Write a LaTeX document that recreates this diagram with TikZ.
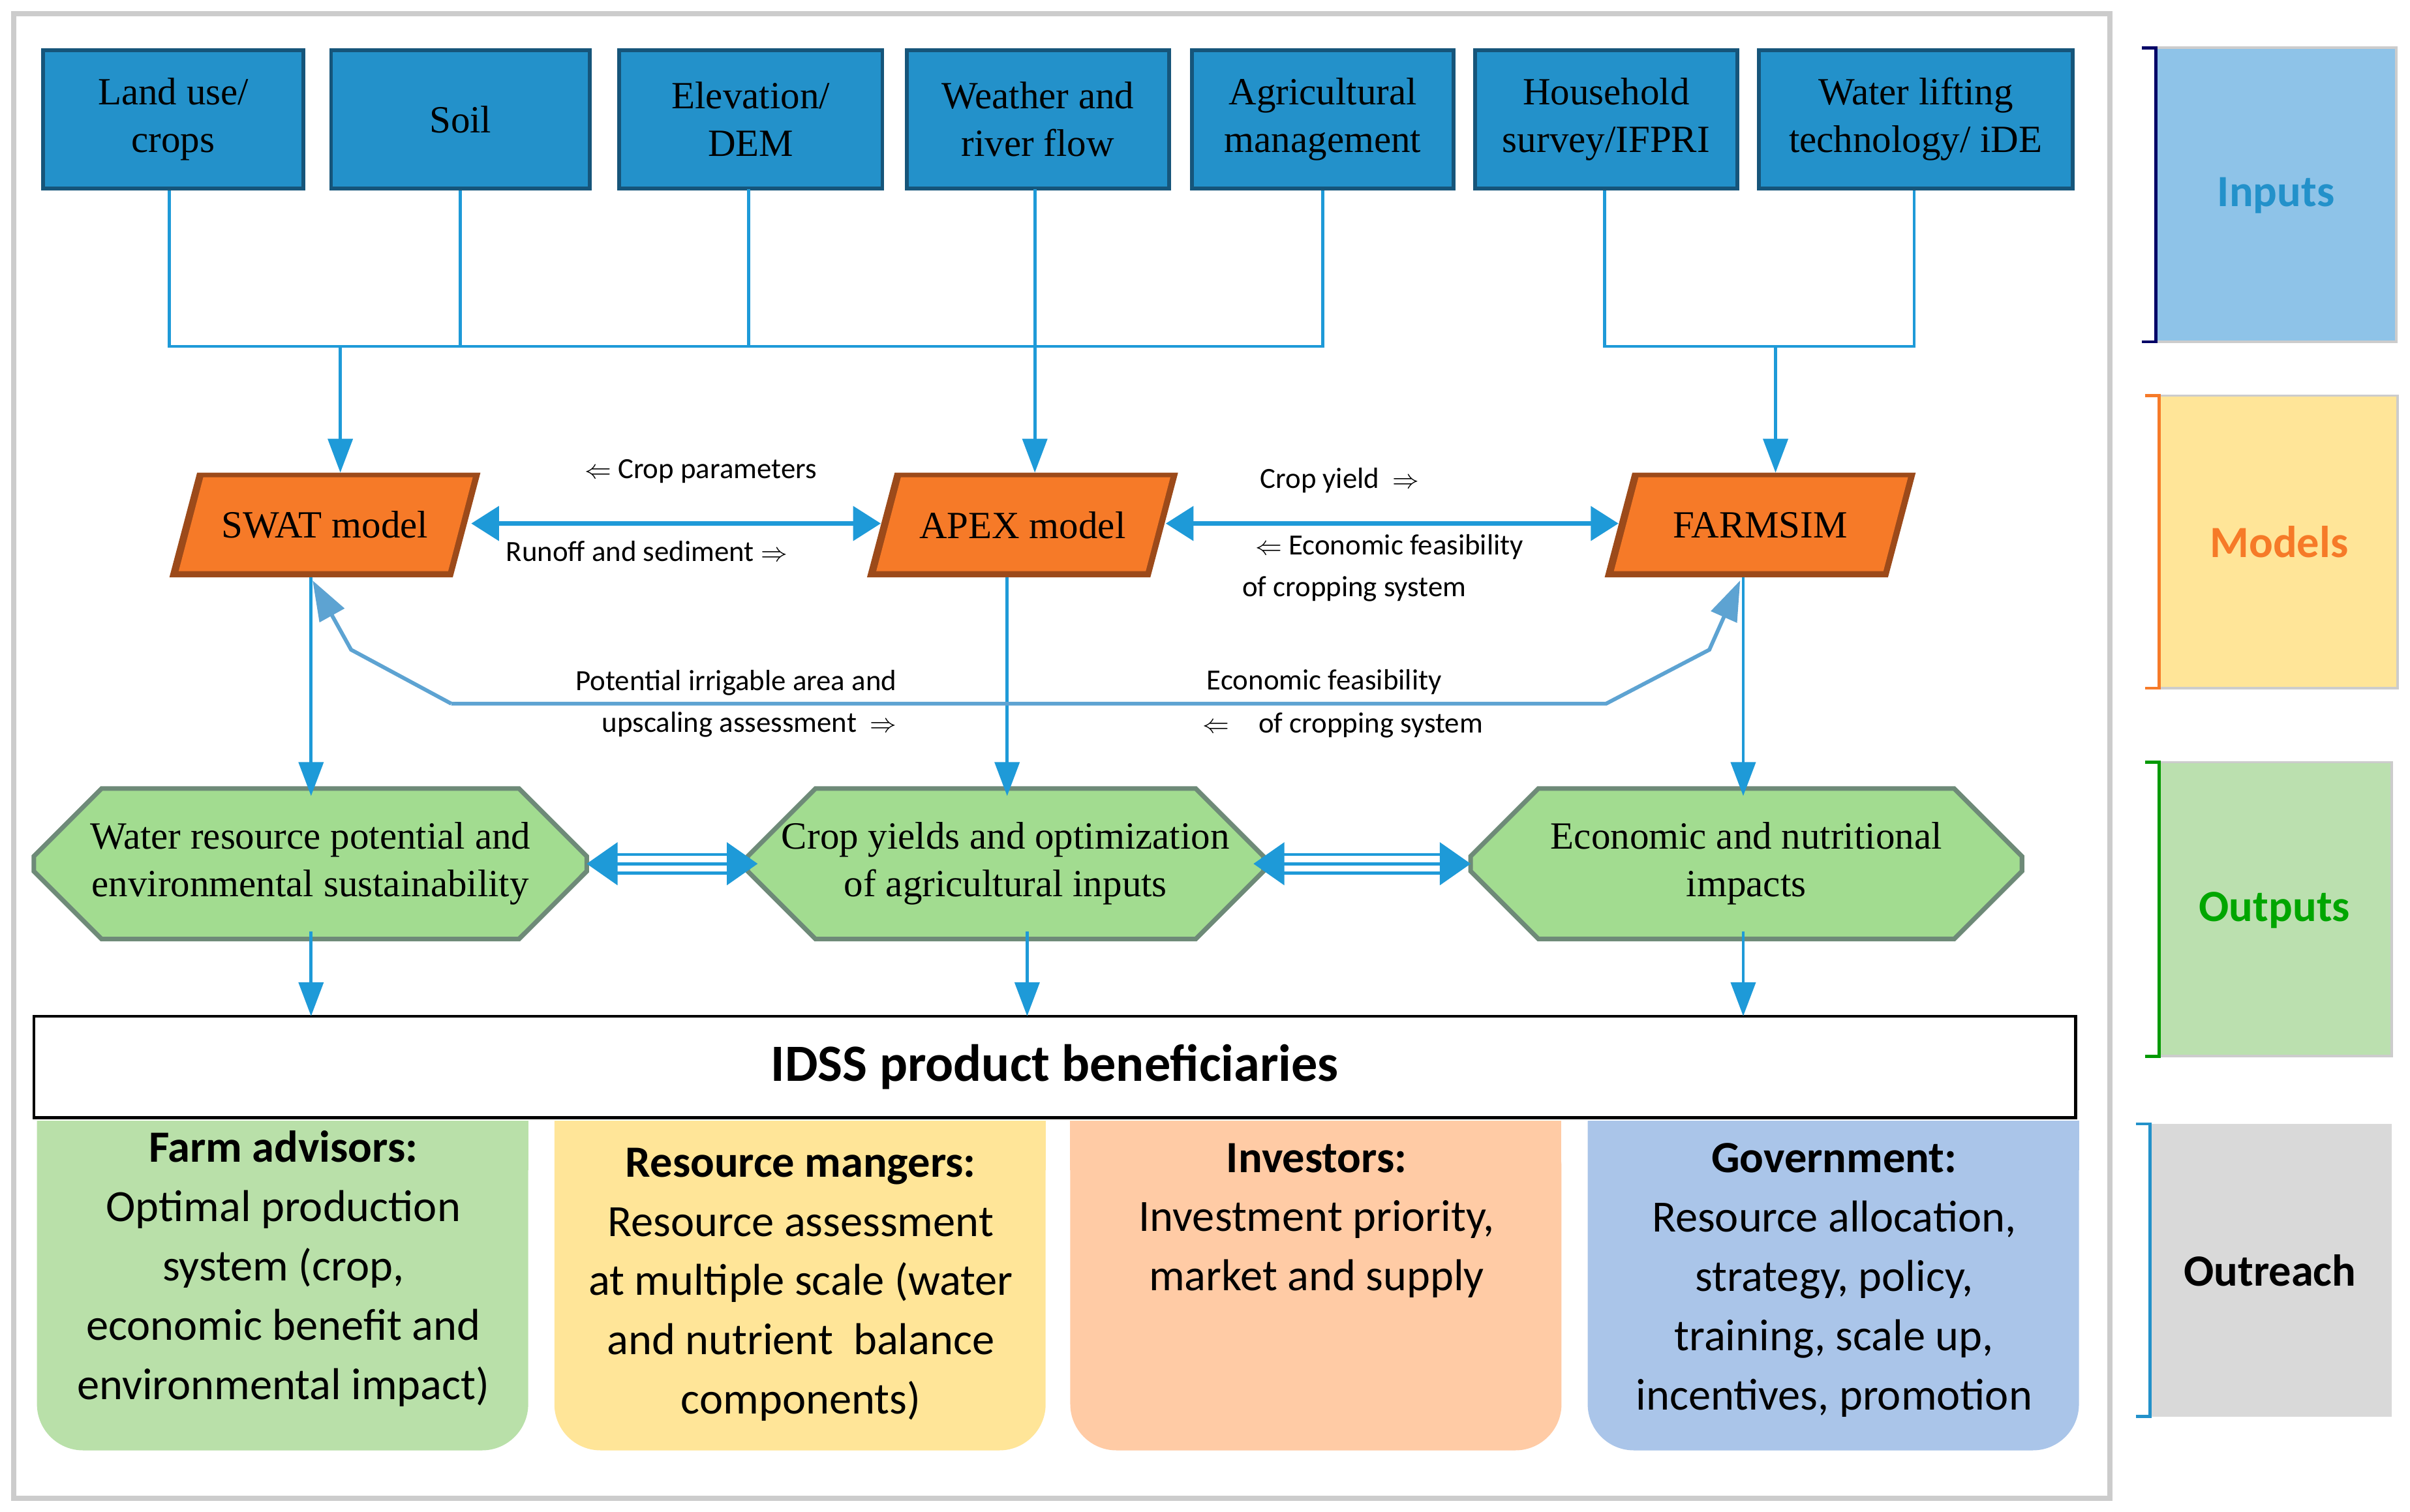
\documentclass[tikz,border=0pt]{standalone}
\usepackage{fontspec}
\setmainfont{Liberation Serif}
\newfontfamily\calfnt{Carlito}
\usetikzlibrary{arrows.meta,shapes.misc}
\definecolor{inblue}{HTML}{2391CA}
\definecolor{inborder}{HTML}{16557A}
\definecolor{ln}{HTML}{1E9AD8}
\definecolor{lnl}{HTML}{5DA3D2}
\definecolor{org}{HTML}{F67A28}
\definecolor{orgd}{HTML}{9C4A1A}
\definecolor{grn}{HTML}{A2DC90}
\definecolor{grnd}{HTML}{6E8A78}
\definecolor{bgreen}{HTML}{B9E0A9}
\definecolor{byellow}{HTML}{FFE598}
\definecolor{bpeach}{HTML}{FFCBA5}
\definecolor{bblue}{HTML}{AAC5E9}
\definecolor{rblue}{HTML}{8EC3E8}
\definecolor{rgreen}{HTML}{BBE0AF}
\definecolor{rgray}{HTML}{D9D9D9}
\begin{document}
\begin{tikzpicture}[x=1pt,y=-1pt,
  inbox/.style={draw=inborder,line width=2.5pt,fill=inblue,minimum width=#1,minimum height=90,inner sep=2,align=center,font=\fontsize{25}{31}\selectfont},
  lbl/.style={font=\calfnt\fontsize{19}{27}\selectfont,inner sep=1,align=center},
  conn/.style={ln,line width=2pt},
  arr/.style={ln,line width=2pt,-{Triangle[length=22,width=16]}},
  darr/.style={ln,line width=3pt,{Triangle[length=18,width=22]}-{Triangle[length=18,width=22]}},
  larr/.style={lnl,line width=2.5pt,-{Triangle[length=26,width=18]}},
  outbox/.style={chamfered rectangle,chamfered rectangle xsep=22,chamfered rectangle ysep=22,draw=grnd,line width=3pt,fill=grn,minimum height=86,align=center,font=\fontsize{25}{31}\selectfont,inner sep=0},
  btxt/.style={font=\calfnt\fontsize{29}{38.5}\selectfont,align=center,anchor=north},
  side/.style={font=\calfnt\bfseries\fontsize{29}{34}\selectfont}
]
\useasboundingbox (0,0) rectangle (1565,982);
\fill[white] (0,0) rectangle (1565,982);
\draw[black!20,line width=3.5pt] (9,9) rectangle (1370,973);

% inputs
\node[inbox=169] (i1) at (112.5,77.5) {Land use/\\crops};
\node[inbox=168] (i2) at (299,77.5) {Soil};
\node[inbox=171] (i3) at (487.5,77.5) {Elevation/\\DEM};
\node[inbox=170] (i4) at (674,77.5) {Weather and\\river flow};
\node[inbox=170] (i5) at (859,77.5) {Agricultural\\management};
\node[inbox=170] (i6) at (1043,77.5) {Household\\survey/IFPRI};
\node[inbox=204] (i7) at (1244,77.5) {Water lifting\\technology/ iDE};

% models (parallelograms)
\foreach \cx in {211,664,1143}{
  \fill[orgd] (\cx-101,375) -- (\cx-83,307) -- (\cx+101,307) -- (\cx+83,375) -- cycle;
  \fill[org] (\cx-95,371) -- (\cx-79,310) -- (\cx+96,310) -- (\cx+80,371) -- cycle;
}
\node[font=\fontsize{25}{30}\selectfont,minimum width=160,minimum height=68] (swat) at (211,341) {SWAT model};
\node[font=\fontsize{25}{30}\selectfont,minimum width=160,minimum height=68] (apex) at (664,341) {APEX model};
\node[font=\fontsize{25}{30}\selectfont,minimum width=160,minimum height=68] (farm) at (1143,341) {FARMSIM};

\coordinate (j1) at (110,225); \coordinate (j2) at (859,225);
\coordinate (j3) at (1042,225); \coordinate (j4) at (1243,225);
\draw[conn] (i1.south -| j1) -- (j1) -- (j2) -- (i5.south -| j2);
\draw[conn] (i2.south) -- (i2.south |- j1);
\draw[conn] (486,123) -- (486,225);
\draw[arr] (221,225) -- (221,307);
\draw[arr] (672,123) -- (672,307);
\draw[conn] (i6.south -| j3) -- (j3) -- (j4) -- (i7.south -| j4);
\draw[arr] (1153,225) -- (1153,307);

\draw[darr] (306,340) -- (572,340);
\draw[darr] (757,340) -- (1051,340);
\node[lbl] (l1) at (455,306) {$\Leftarrow$ Crop parameters};
\node[lbl] (l2) at (420,358) {Runoff and sediment $\Rightarrow$};
\node[lbl] (l3) at (870,312) {Crop yield\ \ $\Rightarrow$};
\node[lbl,align=left] (l4) at (898,369) {\ \ $\Leftarrow$ Economic feasibility\\of cropping system};

% outputs
\node[outbox,minimum width=359] (o1) at (201.5,561) {Water resource potential and\\environmental sustainability};
\node[outbox,minimum width=322] (o2) at (653,561) {Crop yields and optimization\\of agricultural inputs};
\node[outbox,minimum width=358] (o3) at (1134,561) {Economic and nutritional\\impacts};

\draw[arr] (202,375) -- (202,517);
\draw[arr] (654,375) -- (654,517);
\draw[arr] (1132,375) -- (1132,517);

% feedback loop
\coordinate (f1) at (293,457); \coordinate (f2) at (228,422);
\coordinate (f3) at (1043,457); \coordinate (f4) at (1110,422);
\draw[larr] (f1) -- (f2) -- (203,377);
\draw[larr] (f1) -- (f3) -- (f4) -- (1130,377);
\node[lbl,align=right] (l5) at (478,457) {Potential irrigable area and\\upscaling assessment\ \ $\Rightarrow$};
\node[lbl] (l6) at (860,443) {Economic feasibility};
\node[lbl] (l7) at (872,471) {$\Leftarrow$\quad of cropping system};

% triple arrows
\foreach \a/\b in {381/492,814/955}{
  \draw[ln,line width=2pt] (\a+14,555) -- (\b-14,555) (\a+14,561) -- (\b-14,561) (\a+14,567) -- (\b-14,567);
  \fill[ln] (\a,561) -- (\a+20,547) -- (\a+20,575) -- cycle;
  \fill[ln] (\b,561) -- (\b-20,547) -- (\b-20,575) -- cycle;
}

% IDSS
\node[draw=black,line width=2pt,minimum width=1326,minimum height=66,font=\calfnt\bfseries\fontsize{34}{40}\selectfont] (idss) at (685,693) {IDSS product beneficiaries};
\draw[arr] (202,605) -- (202,660);
\draw[arr] (667,605) -- (667,660);
\draw[arr] (1132,605) -- (1132,660);

% bottom boxes
\foreach \x/\c in {24/bgreen,360/byellow,695/bpeach,1031/bblue}{
  \fill[\c,rounded corners=30] (\x,728) -- (\x,942) -- (\x+319,942) -- (\x+319,728) [sharp corners] -- cycle;
  \fill[\c] (\x,728) rectangle (\x+319,760);
}
\node[btxt] (b1) at (184,731) {\textbf{Farm advisors:}\\Optimal production\\system (crop,\\economic benefit and\\environmental impact)};
\node[btxt] (b2) at (520,742) {\textbf{Resource mangers:}\\Resource assessment\\at multiple scale (water\\and nutrient\ \ balance\\components)};
\node[btxt] (b3) at (855,739) {\textbf{Investors:}\\Investment priority,\\market and supply};
\node[btxt] (b4) at (1191,739) {\textbf{Government:}\\Resource allocation,\\strategy, policy,\\training, scale up,\\incentives, promotion};

% right side
\fill[rblue] (1400,31) rectangle (1556,222);
\draw[black!20,line width=1.5pt] (1400,31) rectangle (1556,222);
\draw[blue!40!black,line width=2pt] (1391,31) -- (1400,31) -- (1400,222) -- (1391,222);
\node[side,text=inblue] (s1) at (1478,127) {Inputs};
\fill[byellow] (1402,257) rectangle (1557,447);
\draw[black!20,line width=1.5pt] (1402,257) rectangle (1557,447);
\draw[org,line width=2pt] (1393,257) -- (1402,257) -- (1402,447) -- (1393,447);
\node[side,text=org] (s2) at (1480,352) {Models};
\fill[rgreen] (1402,495) rectangle (1553,686);
\draw[black!20,line width=1.5pt] (1402,495) rectangle (1553,686);
\draw[green!60!black,line width=2pt] (1393,495) -- (1402,495) -- (1402,686) -- (1393,686);
\node[side,text=green!65!black] (s3) at (1477,591) {Outputs};
\fill[rgray] (1396,730) rectangle (1553,920);
\draw[inblue,line width=2pt] (1387,730) -- (1396,730) -- (1396,920) -- (1387,920);
\node[side] (s4) at (1474,825) {Outreach};
\end{tikzpicture}
\end{document}
